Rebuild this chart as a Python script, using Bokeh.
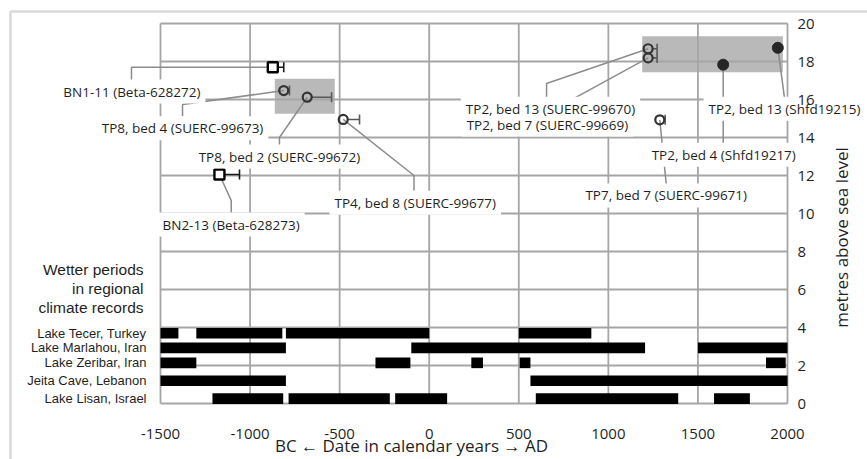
import math
from bokeh.plotting import figure
from bokeh.models import Label, Range1d, FixedTicker
from bokeh.embed import file_html
from bokeh.resources import INLINE

# ---------------- axes -----------------
x_ticks = [-1500, -1000, -500, 0, 500, 1000, 1500, 2000]
y_ticks = [0, 2, 4, 6, 8, 10, 12, 14, 16, 18, 20]
x_title = "BC \u2190 Date in calendar years \u2192 AD"
y_title = "metres above sea level"

# ---------------- wetter periods in regional climate records -----------------
wet_title = ["Wetter periods", "in regional", "climate records"]
lake_names = ["Lake Tecer, Turkey", "Lake Marlahou, Iran", "Lake Zeribar, Iran",
              "Jeita Cave, Lebanon", "Lake Lisan, Israel"]
lake_rows = [3.70, 2.93, 2.14, 1.20, 0.26]
tecer_wet = [(-1500, -1400), (-1300, -820), (-800, 0), (500, 905)]
marlahou_wet = [(-1500, -800), (-100, 1205), (1500, 2000)]
zeribar_wet = [(-1500, -1300), (-300, -105), (235, 300), (505, 565), (1880, 1990)]
jeita_wet = [(-1500, -800), (565, 2000)]
lisan_wet = [(-1210, -815), (-785, -220), (-190, 100), (595, 1390), (1590, 1790)]
wet_periods = [tecer_wet, marlahou_wet, zeribar_wet, jeita_wet, lisan_wet]

# ---------------- dated samples -----------------
sample_names = ["BN1-11 (Beta-628272)", "TP8, bed 4 (SUERC-99673)", "TP8, bed 2 (SUERC-99672)",
                "TP4, bed 8 (SUERC-99677)", "BN2-13 (Beta-628273)", "TP2, bed 13 (SUERC-99670)",
                "TP2, bed 7 (SUERC-99669)", "TP7, bed 7 (SUERC-99671)", "TP2, bed 4 (Shfd19217)",
                "TP2, bed 13 (Shfd19215)"]
sample_year = [-873, -812, -681, -480, -1171, 1222, 1222, 1287, 1641, 1946]
sample_height = [17.70, 16.47, 16.12, 14.95, 12.05, 18.67, 18.19, 14.93, 17.83, 18.72]
sample_err = [61, 32, 136, 91, 112, 50, 50, 30, 0, 0]
sample_kind = ["square", "open", "open", "open", "square", "open", "open", "open", "filled", "filled"]

# shaded groups of samples
shade_x0 = [-862, 1189]
shade_x1 = [-527, 1974]
shade_y0 = [15.25, 17.44]
shade_y1 = [17.09, 19.33]

# callout label layout
label_x = [-1660, -1377, -836, -78, -1106, 677, 660, 1323, 1644, 1983]
label_y = [16.42, 14.49, 13.00, 10.56, 9.42, 15.51, 14.68, 10.95, 13.09, 15.51]
leader_via_x = [[-1662, -1662], [-1377, -1377], [-836, -836], [-85, -85], [-1105, -1105],
                [655, 655], [660], [1323], [1641], [1983]]
leader_via_y = [[17.70, 17.0], [15.74, 15.1], [14.0, 13.6], [12.0, 11.2], [10.68, 10.05],
                [16.84, 16.1], [15.3], [11.55], [13.7], [16.1]]

# ---------------- figure -----------------
W, H = 867, 459
PX_PER_YEAR = 627 / 3500.0
PX_PER_M = 19.0
FONT = "Open Sans"
GRID = "#a6a6a6"
TXT = "#1f1f1f"

p = figure(width=W, height=H,
           x_range=Range1d(-1500 - 160 / PX_PER_YEAR, 2000 + 80 / PX_PER_YEAR),
           y_range=Range1d(-56 / PX_PER_M, 20 + 23 / PX_PER_M),
           y_axis_location="right", output_backend="svg", toolbar_location=None,
           min_border=0, min_border_left=0, min_border_right=0,
           min_border_top=0, min_border_bottom=0)
p.grid.visible = False
p.outline_line_color = None
p.background_fill_color = "white"
p.border_fill_color = "white"

for ax in (p.xaxis[0], p.yaxis[0]):
    ax.axis_line_color = None
    ax.major_tick_out = 0
    ax.major_tick_in = 0
    ax.minor_tick_out = 0
    ax.minor_tick_in = 0
    ax.major_label_text_font = FONT
    ax.major_label_text_font_size = "15px"
    ax.major_label_text_color = TXT
    ax.level = "overlay"
p.xaxis.ticker = FixedTicker(ticks=x_ticks)
p.yaxis.ticker = FixedTicker(ticks=y_ticks)
p.xaxis.major_label_overrides = {t: str(t) for t in x_ticks}
p.yaxis.major_label_overrides = {t: str(t) for t in y_ticks}
p.xaxis.fixed_location = 0
p.yaxis.fixed_location = 2000
p.xaxis.major_label_standoff = 25
p.yaxis.major_label_standoff = 10

# outer chart border
try:
    border = Label(x=-1500 - 150 / PX_PER_YEAR, y=20 + 12 / PX_PER_M, text=" ",
                   text_align="left", text_baseline="top", text_font_size="12px",
                   border_line_color="#d9d9d9", border_line_width=2.5,
                   background_fill_color=None,
                   padding=dict(left=0, top=0, right=1200, bottom=700))
    p.add_layout(border)
except Exception:
    pass

# shaded groups
p.quad(left=shade_x0, right=shade_x1, bottom=shade_y0, top=shade_y1,
       fill_color="#b9b9b9", line_color=None)

# grid lines
p.segment(x0=[x_ticks[0]] * len(y_ticks), x1=[x_ticks[-1]] * len(y_ticks), y0=y_ticks, y1=y_ticks,
          line_color=GRID, line_width=1.8)
p.segment(x0=x_ticks, x1=x_ticks, y0=[y_ticks[0]] * len(x_ticks), y1=[y_ticks[-1]] * len(x_ticks),
          line_color=GRID, line_width=1.8)

# wetter period bars
BAR_H = 0.56
bl, br, bb, bt = [], [], [], []
for row, periods in zip(lake_rows, wet_periods):
    for a, b in periods:
        bl.append(a); br.append(b); bb.append(row - BAR_H / 2); bt.append(row + BAR_H / 2)
p.quad(left=bl, right=br, bottom=bb, top=bt, fill_color="black", line_color=None)

# leader lines
lxs, lys = [], []
for i in range(len(sample_names)):
    lxs.append([sample_year[i]] + leader_via_x[i])
    lys.append([sample_height[i]] + leader_via_y[i])
p.multi_line(xs=lxs, ys=lys, line_color="#8c8c8c", line_width=1.5)

# error bars (one-sided, to the right)
marker_r = {"square": 5, "open": 4.5, "filled": 5.5}
err_col = {"square": "#1a1a1a", "open": "#595959", "filled": "#595959"}
ex0, ex1, ey, ec = [], [], [], []
cx, cy0, cy1, cc = [], [], [], []
for yr, h, e, k in zip(sample_year, sample_height, sample_err, sample_kind):
    if e <= 0:
        continue
    ex0.append(yr + marker_r[k] / PX_PER_YEAR); ex1.append(yr + e); ey.append(h); ec.append(err_col[k])
    cx.append(yr + e); cy0.append(h - 5 / PX_PER_M); cy1.append(h + 5 / PX_PER_M); cc.append(err_col[k])
p.segment(x0=ex0, x1=ex1, y0=ey, y1=ey, line_color=ec, line_width=1.6)
p.segment(x0=cx, x1=cx, y0=cy0, y1=cy1, line_color=cc, line_width=1.6)

# markers
def pick(kind):
    xs = [x for x, k in zip(sample_year, sample_kind) if k == kind]
    ys = [y for y, k in zip(sample_height, sample_kind) if k == kind]
    return xs, ys

sx, sy = pick("square")
p.scatter(sx, sy, marker="square", size=10, fill_color="white", line_color="black", line_width=2.4)
ox, oy = pick("open")
p.scatter(ox, oy, marker="circle", size=9, fill_color=None, line_color="#333333", line_width=2.2)
fx, fy = pick("filled")
p.scatter(fx, fy, marker="circle", size=11, fill_color="#262626", line_color="#262626")

# callout labels (lower ones first so upper boxes sit on top)
order = sorted(range(len(sample_names)), key=lambda i: label_y[i])
for i in order:
    kw = dict(x=label_x[i], y=label_y[i], text=sample_names[i], text_align="center",
              text_baseline="middle", text_font=FONT, text_font_size="13.5px", text_color=TXT,
              background_fill_color="white")
    try:
        lab = Label(padding=dict(x=5, y=3), **kw)
    except Exception:
        lab = Label(padding=4, **kw)
    p.add_layout(lab)

# lake labels
for name, row in zip(lake_names, lake_rows):
    p.add_layout(Label(x=-1500 - 14 / PX_PER_YEAR, y=row, text=name, text_align="right",
                       text_baseline="middle", text_font="Liberation Sans",
                       text_font_size="13px", text_color=TXT))
for j, line in enumerate(wet_title):
    p.add_layout(Label(x=-1500 - 17 / PX_PER_YEAR, y=7.04 - j * 1.0, text=line, text_align="right",
                       text_baseline="middle", text_font="Liberation Sans",
                       text_font_size="15.5px", text_color=TXT))

# axis titles
p.add_layout(Label(x=-99, y=-2.22, text=x_title, text_align="center", text_baseline="middle",
                   text_font=FONT, text_font_size="17px", text_color=TXT))
p.add_layout(Label(x=2300, y=8.74, text=y_title, text_align="center", text_baseline="middle",
                   angle=math.pi / 2, text_font=FONT, text_font_size="17px", text_color=TXT))

open("out.html", "w").write(file_html(p, INLINE))
